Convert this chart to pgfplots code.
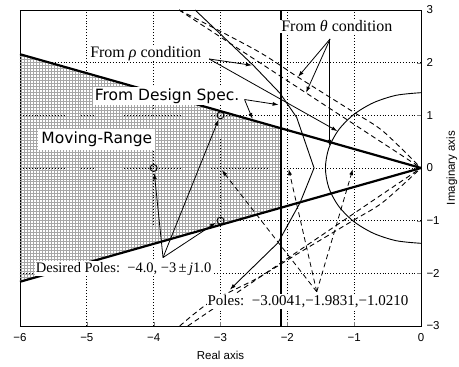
\documentclass[border=0pt]{standalone}
\usepackage{fontspec}
\setmainfont{Liberation Sans}
\newfontfamily\serifff{Liberation Serif}
\newfontfamily\dejavu{DejaVu Sans}
\usepackage{pgfplots}
\pgfplotsset{compat=1.18}
\usetikzlibrary{patterns,arrows.meta,calc}
\tikzset{arr/.style={line width=0.8bp, -{Latex[length=6bp,width=4bp]}},
  dsh/.style={line width=0.9bp, dash pattern=on 5bp off 3.5bp}}
\begin{document}
\begin{tikzpicture}
\begin{axis}[
  scale only axis, width=401bp, height=316bp,
  xmin=-6, xmax=0, ymin=-3, ymax=3,
  xtick={-6,-5,-4,-3,-2,-1,0}, xticklabels={−6,−5,−4,−3,−2,−1,0},
  ytick={-3,-2,-1,0,1,2,3}, yticklabels={−3,−2,−1,0,1,2,3},
  xtick pos=bottom, ytick pos=right, yticklabel pos=right,
  tick align=inside, major tick length=4bp,
  axis line style={line width=0.9bp},
  grid=major, grid style={black, line width=0.7bp, dash pattern=on 0.9bp off 2bp},
  tick label style={font=\fontsize{11.5bp}{13bp}\selectfont},
  xticklabel style={yshift=-4bp},
  yticklabel style={xshift=2bp},
  label style={font=\fontsize{11.5bp}{13bp}\selectfont},
  xlabel={Real axis}, ylabel={Imaginary axis},
  xlabel style={yshift=-3bp},
  clip=true,
]
% moving range (shaded)
\addplot[draw=none, pattern=grid, pattern color=black!35] coordinates {(-6,2.16) (-2.1,0.756) (-2.1,-0.756) (-6,-2.16)} -- cycle;
% design spec lines
\addplot[line width=2.2bp] coordinates {(0,0) (-6,2.16)};
\addplot[line width=2.2bp] coordinates {(0,0) (-6,-2.16)};
\addplot[line width=2.2bp] coordinates {(-2.1,-3) (-2.1,3)};
% rho condition arc
\addplot[line width=0.9bp, smooth] coordinates {(0,1.43) (-0.370,1.381) (-0.715,1.238) (-1.011,1.011) (-1.238,0.715) (-1.381,0.370) (-1.43,0) (-1.381,-0.370) (-1.238,-0.715) (-1.011,-1.011) (-0.715,-1.238) (-0.370,-1.381) (0,-1.43)};
% rho condition curve
\addplot[line width=0.9bp, -{Latex[length=6bp,width=4bp]}] coordinates {(-3.38,3.0) (-2.51,1.95) (-2.11,1.42) (-1.86,0.96) (-1.60,0) (-1.81,-0.66) (-2.14,-1.42) (-2.86,-2.31)};
% theta condition lines
\addplot[dsh, smooth] coordinates {(-3.62,3.0) (-2.46,2.23) (-1.81,1.70) (-1.02,1.07) (-0.57,0.70) (0,0)};
\addplot[dsh] coordinates {(-3.62,3.0) (0,0)};
\addplot[dsh] coordinates {(-3.49,-3.0) (0,0)};
\addplot[dsh, smooth] coordinates {(-3.61,-3.0) (-3.16,-2.55) (-2.46,-2.1) (-1.81,-1.6) (-1.02,-1.0) (-0.57,-0.65) (0,0)};
% desired poles
\addplot[only marks, mark=o, mark size=3.5bp, mark options={line width=0.9bp}] coordinates {(-4,0) (-3,1) (-3,-1)};
% labels
\node[font=\serifff\fontsize{16bp}{19bp}\selectfont, fill=white, inner sep=1bp] at (axis cs:-4.12,2.18) {From \textit{ρ} condition};
\node[font=\serifff\fontsize{16bp}{19bp}\selectfont, fill=white, inner sep=1bp] at (axis cs:-1.26,2.69) {From \textit{θ} condition};
\node[font=\dejavu\fontsize{15.5bp}{18bp}\selectfont, fill=white, inner sep=1.5bp] at (axis cs:-3.80,1.36) {From Design Spec.};
\node[font=\dejavu\fontsize{15.5bp}{18bp}\selectfont, fill=white, inner sep=3bp] at (axis cs:-4.85,0.54) {Moving-Range};
\node[font=\serifff\fontsize{14.5bp}{17bp}\selectfont, fill=white, inner sep=1bp] at (axis cs:-4.45,-1.91) {Desired Poles:\ \ −4.0, −3\,±\,\textit{j}1.0};
\node[font=\serifff\fontsize{15bp}{18bp}\selectfont, fill=white, inner sep=1bp] at (axis cs:-1.69,-2.54) {Poles:\ \ −3.0041,−1.9831,−1.0210};
% arrows
\draw[arr] (axis cs:-3.17,2.07) -- (axis cs:-2.53,1.95);
\draw[arr] (axis cs:-3.17,2.07) -- (axis cs:-1.25,0.70);
\draw[arr] (axis cs:-1.36,2.45) -- (axis cs:-1.84,1.73);
\draw[arr] (axis cs:-1.36,2.45) -- (axis cs:-1.72,1.43);
\draw[arr] (axis cs:-1.37,2.45) -- (axis cs:-1.37,0.42);
\draw[arr] (axis cs:-2.64,1.30) -- (axis cs:-2.13,1.20);
\draw[arr] (axis cs:-2.64,1.30) -- (axis cs:-2.52,0.93);
\draw[arr] (axis cs:-3.86,-1.70) -- (axis cs:-3.99,-0.10);
\draw[arr] (axis cs:-3.86,-1.70) -- (axis cs:-3.03,0.92);
\draw[arr] (axis cs:-3.86,-1.70) -- (axis cs:-3.07,-1.04);
\draw[arr, dash pattern=on 5bp off 3.5bp] (axis cs:-1.56,-2.35) -- (axis cs:-2.98,-0.04);
\draw[arr, dash pattern=on 5bp off 3.5bp] (axis cs:-1.56,-2.35) -- (axis cs:-1.98,-0.02);
\draw[arr, dash pattern=on 5bp off 3.5bp] (axis cs:-1.56,-2.35) -- (axis cs:-1.02,-0.02);
\coordinate (bl) at (rel axis cs:0,0);
\coordinate (tr) at (rel axis cs:1,1);
\end{axis}
\pgfresetboundingbox
\path[use as bounding box] ($(bl)+(-20bp,-41bp)$) rectangle ($(tr)+(38bp,10bp)$);
\end{tikzpicture}
\end{document}
